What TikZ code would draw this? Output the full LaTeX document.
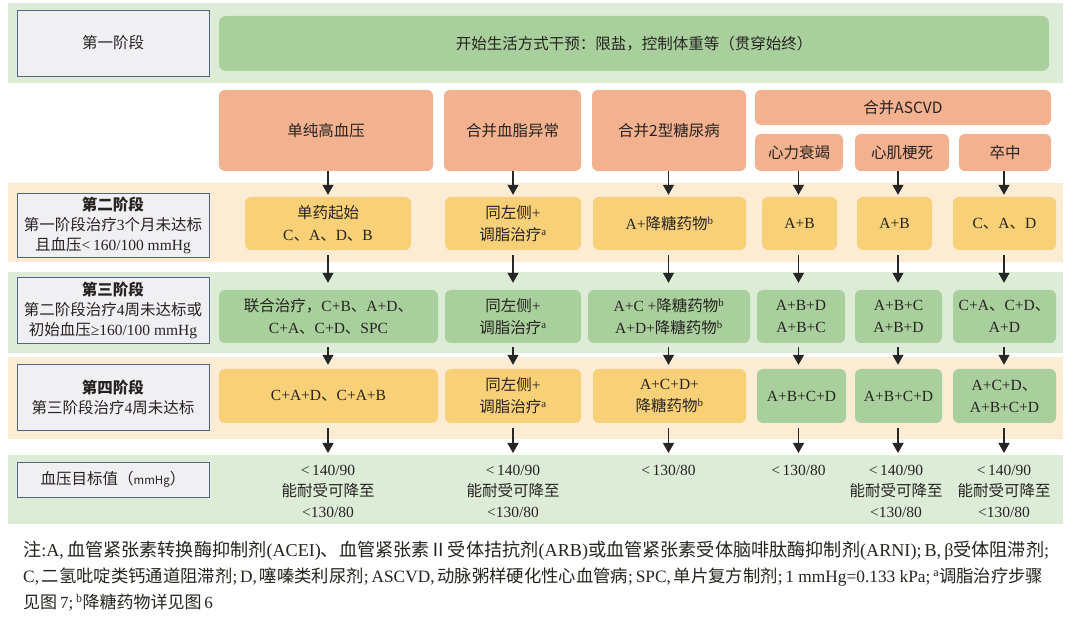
\documentclass[tikz,border=0pt]{standalone}
\usepackage{fontspec}
\usepackage{graphicx}
\setmainfont{Liberation Serif}
\newfontfamily\cjkfont{Noto Sans CJK SC}
\usetikzlibrary{arrows.meta}

% automatic switch to the CJK font for CJK characters
\XeTeXinterchartokenstate=1
\chardef\CJKcls=10
\newcount\cjkc
\def\setcjkrange#1#2{\cjkc=#1\relax
  \loop\XeTeXcharclass\cjkc=\CJKcls\relax
  \ifnum\cjkc<#2\advance\cjkc by 1\relax\repeat}
\setcjkrange{"2160}{"216F}
\setcjkrange{"3000}{"303F}
\setcjkrange{"3400}{"4DBF}
\setcjkrange{"4E00}{"9FFF}
\setcjkrange{"FF00}{"FFEF}
\XeTeXinterchartoks 0 \CJKcls = {\begingroup\cjkfont}
\XeTeXinterchartoks 4095 \CJKcls = {\begingroup\cjkfont}
\XeTeXinterchartoks \CJKcls 0 = {\endgroup}
\XeTeXinterchartoks \CJKcls 4095 = {\endgroup}

\definecolor{bandG}{HTML}{DDECD7}
\definecolor{bandY}{HTML}{FCECD4}
\definecolor{grnbox}{HTML}{A9D09C}
\definecolor{orng}{HTML}{F2B18F}
\definecolor{ylw}{HTML}{F8D078}
\definecolor{lblfill}{HTML}{F0F0F2}
\definecolor{lblline}{HTML}{526684}
\definecolor{txt}{HTML}{262322}

\newcommand\BX[7]{\node[#2, minimum width={#5-#3}, minimum height={#6-#4}] (#1) at ({(#3+#5)/2},{(#4+#6)/2}) {#7};}

\begin{document}
\begin{tikzpicture}[x=1pt,y=-1pt,
  every node/.style={text=txt, inner sep=0pt, align=center},
  label/.style={fill=lblfill, draw=lblline, line width=0.9pt, font=\fontsize{15.5}{20}\selectfont},
  slabel/.style={fill=lblfill, draw=lblline, line width=0.9pt, font=\cjkfont\fontsize{15.5}{20}\selectfont},
  hdr/.style={fill=orng, rounded corners=6pt, font=\cjkfont\fontsize{15.5}{19}\selectfont},
  lifebox/.style={fill=grnbox, rounded corners=7pt, font=\cjkfont\fontsize{15.5}{19}\selectfont},
  gbox/.style={fill=grnbox, rounded corners=6pt, font=\fontsize{15.5}{22}\selectfont},
  ybox/.style={fill=ylw, rounded corners=6pt, font=\fontsize{15.5}{22}\selectfont},
  tgt/.style={font=\fontsize{15.5}{21}\selectfont, anchor=north},
  arr/.style={draw=black!85, line width=1.3pt, -{Triangle[length=10pt,width=11pt]}}
]
\useasboundingbox (0,0) rectangle (1080,617);
\fill[white] (0,0) rectangle (1080,617);

% background bands
\fill[bandG] (8,3) rectangle (1063,83);
\fill[bandY] (8,183) rectangle (1063,262);
\fill[bandG] (8,272) rectangle (1063,353);
\fill[bandY] (8,357) rectangle (1063,439);
\fill[bandG] (8,455) rectangle (1063,524);

% stage labels
\BX{L1}{slabel}{17}{10}{209}{76}{第一阶段}
\BX{L2}{label}{17}{193}{209}{257}{\textbf{第二阶段}\\第一阶段治疗3个月未达标\\且血压<\,160/100 mmHg}
\BX{L3}{label}{17}{277}{209}{343}{\textbf{第三阶段}\\第二阶段治疗4周未达标或\\初始血压≥160/100 mmHg}
\BX{L4}{label}{17}{364}{209}{430}{\textbf{第四阶段}\\第三阶段治疗4周未达标}
\BX{L5}{slabel}{17}{462}{209}{497}{血压目标值（{\fontsize{11.5}{12}\selectfont mmHg}）}

% stage 1
\BX{G1}{lifebox}{219}{16}{1049}{71}{开始生活方式干预：限盐，控制体重等（贯穿始终）}

% categories
\BX{O1}{hdr}{219}{90}{433}{171}{单纯高血压}
\BX{O2}{hdr}{444}{90}{581}{171}{合并血脂异常}
\BX{O3}{hdr}{592}{90}{746}{171}{合并2型糖尿病}
\BX{OA}{hdr}{755}{90}{1051}{125}{合并ASCVD}
\BX{O4}{hdr}{755}{134}{843}{171}{心力衰竭}
\BX{O5}{hdr}{855}{134}{949}{171}{心肌梗死}
\BX{O6}{hdr}{959}{134}{1051}{171}{卒中}

% stage 2
\BX{A1}{ybox}{245}{197}{411}{250}{单药起始\\C、A、D、B}
\BX{A2}{ybox}{445}{197}{581}{250}{同左侧+\\调脂治疗\textsuperscript{a}}
\BX{A3}{ybox}{593}{197}{746}{250}{A+降糖药物\textsuperscript{b}}
\BX{A4}{ybox}{762}{197}{837}{250}{A+B}
\BX{A5}{ybox}{857}{197}{932}{250}{A+B}
\BX{A6}{ybox}{953}{197}{1056}{250}{C、A、D}

% stage 3
\BX{B1}{gbox}{219}{290}{438}{343}{联合治疗，C+B、A+D、\\C+A、C+D、SPC}
\BX{B2}{gbox}{445}{290}{581}{343}{同左侧+\\调脂治疗\textsuperscript{a}}
\BX{B3}{gbox}{588}{290}{750}{343}{A+C +降糖药物\textsuperscript{b}\\A+D+降糖药物\textsuperscript{b}}
\BX{B4}{gbox}{757}{290}{845}{343}{A+B+D\\A+B+C}
\BX{B5}{gbox}{855}{290}{942}{343}{A+B+C\\A+B+D}
\BX{B6}{gbox}{953}{290}{1056}{343}{C+A、C+D、\\A+D}

% stage 4
\BX{C1}{ybox}{219}{369}{438}{423}{C+A+D、C+A+B}
\BX{C2}{ybox}{445}{369}{581}{423}{同左侧+\\调脂治疗\textsuperscript{a}}
\BX{C3}{ybox}{593}{369}{746}{423}{A+C+D+\\降糖药物\textsuperscript{b}}
\BX{C4}{gbox}{757}{369}{846}{423}{A+B+C+D}
\BX{C5}{gbox}{855}{369}{942}{423}{A+B+C+D}
\BX{C6}{gbox}{953}{369}{1056}{423}{A+C+D、\\A+B+C+D}

% column axes
\coordinate (X1) at (328,0);
\coordinate (X2) at (513,0);
\coordinate (X3) at (668.5,0);
\coordinate (X4) at (798.5,0);
\coordinate (X5) at (898,0);
\coordinate (X6) at (1004,0);

% targets
\node[tgt] (T1) at (328,465) {<\,140/90\\能耐受可降至\\<130/80};
\node[tgt] (T2) at (513,465) {<\,140/90\\能耐受可降至\\<130/80};
\node[tgt] (T3) at (668.5,465) {<\,130/80};
\node[tgt] (T4) at (798.5,465) {<\,130/80};
\node[tgt] (T5) at (896,465) {<\,140/90\\能耐受可降至\\<130/80};
\node[tgt] (T6) at (1004,465) {<\,140/90\\能耐受可降至\\<130/80};

% arrows
\foreach \i in {1,...,6}{
  \draw[arr, shorten >=2pt] (O\i.south -| X\i) -- (A\i.north -| X\i);
  \draw[arr, shorten <=5pt, shorten >=7pt] (A\i.south -| X\i) -- (B\i.north -| X\i);
  \draw[arr, shorten <=4pt, shorten >=4pt] (B\i.south -| X\i) -- (C\i.north -| X\i);
  \draw[arr, shorten <=5pt, shorten >=12pt] (C\i.south -| X\i) -- (T\i.north -| X\i);
}

% footnote
\node[anchor=north west, align=left, font=\fontsize{17}{26}\selectfont] (note) at (23,541)
 {\resizebox{1026pt}{!}{注:A,\,血管紧张素转换酶抑制剂(ACEI)、血管紧张素Ⅱ受体拮抗剂(ARB)或血管紧张素受体脑啡肽酶抑制剂(ARNI);\,B,\,β受体阻滞剂;}\\
  \resizebox{1020pt}{!}{C,\,二氢吡啶类钙通道阻滞剂;\,D,\,噻嗪类利尿剂;\,ASCVD,\,动脉粥样硬化性心血管病;\,SPC,\,单片复方制剂;\,1 mmHg=0.133 kPa;\,\textsuperscript{a}调脂治疗步骤}\\
  见图\,7;\,\textsuperscript{b}降糖药物详见图\,6};
\end{tikzpicture}
\end{document}
